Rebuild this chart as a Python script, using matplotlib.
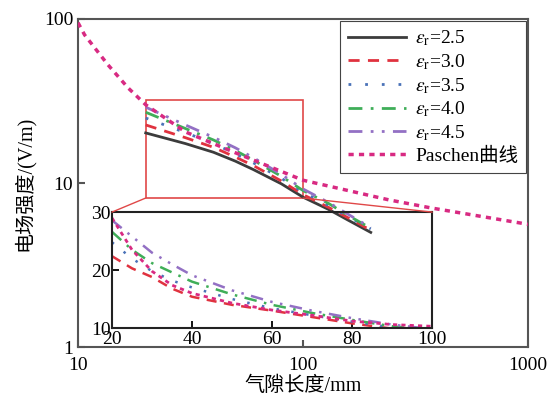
import matplotlib
matplotlib.use("Agg")
import matplotlib.pyplot as plt
from matplotlib.patches import Rectangle, ConnectionPatch

plt.rcParams['font.family'] = ['Liberation Serif', 'Noto Sans CJK SC']
plt.rcParams['mathtext.fontset'] = 'stix'

# main plot data (gap mm -> field V/m)
gap_main = [20, 30, 40, 50, 60, 80, 100, 130, 160, 200]
er25 = [20.2, 17.4, 15.4, 13.6, 12.1, 9.9, 8.2, 6.9, 5.9, 5.0]
er30 = [22.6, 18.9, 16.5, 14.4, 12.8, 10.3, 8.5, 7.1, 6.1, 5.15]
er35 = [24.9, 20.3, 17.4, 15.1, 13.3, 10.7, 8.8, 7.3, 6.2, 5.25]
er40 = [27.0, 21.5, 18.3, 15.8, 13.8, 11.0, 9.0, 7.5, 6.3, 5.3]
er45 = [29.0, 22.6, 19.0, 16.4, 14.3, 11.3, 9.2, 7.6, 6.4, 5.35]
pas_gap = [10, 10.7, 13.6, 16.7, 20, 30, 50, 100, 240, 370, 1000]
pas_val = [95, 80, 52.5, 38, 30, 20.5, 15.3, 10.4, 7.9, 7.05, 5.6]

# inset data
gap_in = [20, 25, 30, 35, 40, 50, 60, 70, 80, 90, 100]
in30 = [22.4, 20.3, 18.8, 16.8, 15.4, 14.0, 13.0, 11.9, 10.8, 9.9, 9.2]
in35 = [24.8, 22.0, 19.8, 18.2, 17.0, 15.0, 13.4, 12.2, 11.1, 10.1, 9.4]
in40 = [26.6, 23.5, 21.2, 19.6, 18.0, 15.8, 14.0, 12.6, 11.4, 10.3, 9.6]
in45 = [28.6, 25.8, 23.0, 21.0, 19.1, 16.5, 14.5, 13.0, 11.7, 10.6, 9.8]
in_pas = [29.0, 23.5, 19.8, 17.4, 16.0, 14.3, 13.1, 12.2, 11.2, 10.6, 10.3]

labels = [r'$\varepsilon_{\rm r}$=2.5', r'$\varepsilon_{\rm r}$=3.0', r'$\varepsilon_{\rm r}$=3.5',
          r'$\varepsilon_{\rm r}$=4.0', r'$\varepsilon_{\rm r}$=4.5', 'Paschen曲线']

c_black = '#3c3c3c'
c_red = '#e0323f'
c_blue = '#4a72b8'
c_green = '#3fae58'
c_purple = '#9370c4'
c_pink = '#d82a82'

ls_red = (0, (4, 3))
ls_blue = (0, (1, 5))
ls_green = (0, (5, 3, 1, 3))
ls_purple = (0, (5, 3, 1, 3, 1, 3))
ls_pink = (0, (1.5, 1.5))

fig = plt.figure(figsize=(5.57, 4.04), dpi=100)
ax = fig.add_axes([0.140, 0.141, 0.808, 0.812])

ax.plot(gap_main, er25, color=c_black, lw=2, label=labels[0], zorder=6)
ax.plot(gap_main, er30, color=c_red, lw=2, ls=ls_red, label=labels[1], zorder=6)
ax.plot(gap_main, er35, color=c_blue, lw=2, ls=ls_blue, label=labels[2], zorder=6)
ax.plot(gap_main, er40, color=c_green, lw=2, ls=ls_green, label=labels[3], zorder=6)
ax.plot(gap_main, er45, color=c_purple, lw=2, ls=ls_purple, label=labels[4], zorder=6)
ax.plot(pas_gap, pas_val, color=c_pink, lw=2.5, ls=ls_pink, label=labels[5], zorder=6)

ax.set_xscale('log')
ax.set_yscale('log')
ax.set_xlim(10, 1000)
ax.set_ylim(1, 100)
ax.set_xticks([10, 100, 1000])
ax.set_xticklabels(['10', '100', '1000'])
ax.set_yticks([1, 10, 100])
ax.set_yticklabels(['1', '10', '100'])
ax.minorticks_off()
ax.tick_params(direction='in', length=5, width=1.5, labelsize=14, color='#555555')
ax.tick_params(axis='x', pad=7)
for s in ax.spines.values():
    s.set_color('#555555')
    s.set_linewidth(1.5)
ax.set_xlabel('气隙长度/mm', fontsize=14.5, labelpad=2)
ax.set_ylabel('电场强度/(V/m)', fontsize=14.5, labelpad=6)

leg = ax.legend(loc='upper right', fontsize=14, handlelength=3.0, labelspacing=0.2,
                borderaxespad=0.1, handletextpad=0.45, borderpad=0.4, fancybox=False, framealpha=1)
leg.get_frame().set_edgecolor('#444444')
leg.get_frame().set_linewidth(0.8)
leg.set_zorder(10)

# zoom box
ax.add_patch(Rectangle((20, 8.1), 80, 32 - 8.1, fill=False, edgecolor='#e04848', lw=1.2, zorder=5))

# inset
axin = fig.add_axes([0.201, 0.188, 0.575, 0.287])
axin.patch.set_alpha(0)
axin.plot(gap_in, in30, color=c_red, lw=1.8, ls=ls_red)
axin.plot(gap_in, in35, color=c_blue, lw=1.8, ls=ls_blue)
axin.plot(gap_in, in40, color=c_green, lw=1.8, ls=ls_green)
axin.plot(gap_in, in45, color=c_purple, lw=1.8, ls=ls_purple)
axin.plot(gap_in, in_pas, color=c_pink, lw=2, ls=ls_pink)
axin.set_xlim(20, 100)
axin.set_ylim(10, 30)
axin.set_xticks([20, 40, 60, 80, 100])
axin.set_yticks([10, 20, 30])
axin.tick_params(direction='in', length=5, width=1.3, labelsize=14, pad=1)
axin.tick_params(axis='x', pad=2)
for s in axin.spines.values():
    s.set_color('#222222')
    s.set_linewidth(1.5)

for xa, xb in [(20, 20), (100, 100)]:
    con = ConnectionPatch(xyA=(xa, 8.1), coordsA=ax.transData, xyB=(xb, 30), coordsB=axin.transData,
                          color='#e04848', lw=1.0)
    fig.add_artist(con)

fig.savefig('out.png', dpi=100)
